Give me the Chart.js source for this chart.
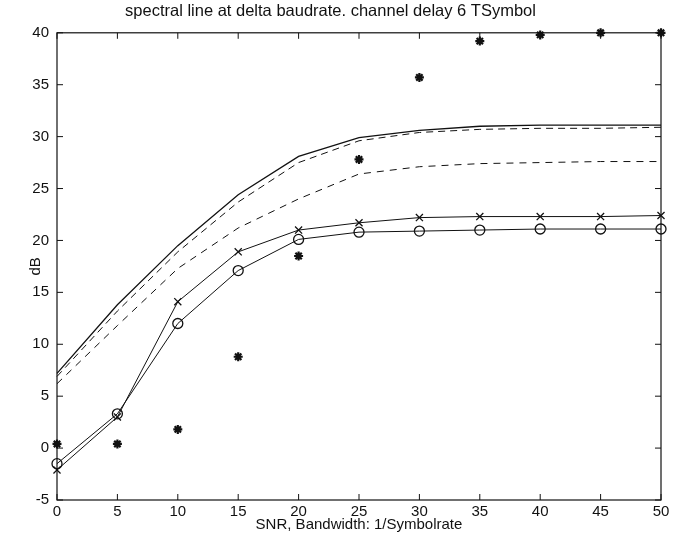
<!DOCTYPE html>
<html>
<head>
<meta charset="utf-8">
<script src="https://cdn.jsdelivr.net/npm/chart.js@4.4.0/dist/chart.umd.min.js"></script>
<style>
  html, body { margin: 0; padding: 0; background: #fff; }
  #wrap { width: 678px; height: 535px; }
</style>
</head>
<body>
<div id="wrap"><canvas id="specChart"></canvas></div>
<script>
// values
const snr = [0, 5, 10, 15, 20, 25, 30, 35, 40, 45, 50];
const solidTop   = [7.2, 13.8, 19.5, 24.4, 28.1, 29.9, 30.6, 31.0, 31.1, 31.1, 31.1];
const dashUpper  = [6.9, 13.2, 18.9, 23.7, 27.5, 29.6, 30.4, 30.7, 30.8, 30.8, 30.9];
const dashLower  = [6.2, 11.8, 17.3, 21.2, 24.0, 26.4, 27.1, 27.4, 27.5, 27.6, 27.6];
const crossLine  = [-2.1, 3.0, 14.1, 18.9, 21.0, 21.7, 22.2, 22.3, 22.3, 22.3, 22.4];
const circleLine = [-1.5, 3.3, 12.0, 17.1, 20.1, 20.8, 20.9, 21.0, 21.1, 21.1, 21.1];
const starPoints = [0.4, 0.4, 1.8, 8.8, 18.5, 27.8, 35.7, 39.2, 39.8, 40.0, 40.0];
const xTicks = [0, 5, 10, 15, 20, 25, 30, 35, 40, 45, 50];
const yTicks = [-5, 0, 5, 10, 15, 20, 25, 30, 35, 40];

const ink = '#111';
const pts = arr => arr.map((v, i) => ({ x: snr[i], y: v }));

// MATLAB style box with inward ticks on all four sides
const boxTicks = {
    id: 'boxTicks',
    afterDraw(chart) {
        const { ctx, chartArea: a, scales: { x, y } } = chart;
        const len = 6;
        ctx.save();
        ctx.strokeStyle = ink;
        ctx.lineWidth = 1.2;
        ctx.strokeRect(a.left, a.top, a.right - a.left, a.bottom - a.top);
        ctx.lineWidth = 1;
        ctx.beginPath();
        xTicks.forEach(v => {
            const px = x.getPixelForValue(v);
            ctx.moveTo(px, a.bottom); ctx.lineTo(px, a.bottom - len);
            ctx.moveTo(px, a.top); ctx.lineTo(px, a.top + len);
        });
        yTicks.forEach(v => {
            const py = y.getPixelForValue(v);
            ctx.moveTo(a.left, py); ctx.lineTo(a.left + len, py);
            ctx.moveTo(a.right, py); ctx.lineTo(a.right - len, py);
        });
        ctx.stroke();
        ctx.restore();
    }
};

const lineSet = (data, extra) => Object.assign({
    data: pts(data),
    borderColor: ink,
    backgroundColor: ink,
    borderWidth: 1,
    pointRadius: 0,
    tension: 0,
    fill: false,
    clip: false
}, extra);

new Chart(document.getElementById('specChart'), {
    type: 'line',
    data: {
        datasets: [
            lineSet(solidTop, { borderWidth: 1.3 }),
            lineSet(dashUpper, { borderDash: [7, 5] }),
            lineSet(dashLower, { borderDash: [7, 6] }),
            lineSet(crossLine, { pointStyle: 'crossRot', pointRadius: 5, pointBorderWidth: 1.3 }),
            lineSet(circleLine, { pointStyle: 'circle', pointRadius: 5, pointBackgroundColor: 'rgba(0,0,0,0)', pointBorderWidth: 1.3 }),
            lineSet(starPoints, { showLine: false, pointStyle: 'star', pointRadius: 4.5, pointBorderWidth: 2.2 })
        ]
    },
    options: {
        responsive: true,
        maintainAspectRatio: false,
        animation: false,
        layout: { padding: { right: 17 } },
        scales: {
            x: {
                type: 'linear',
                min: 0, max: 50,
                afterFit: s => { s.height = 35; },
                afterBuildTicks: s => { s.ticks = xTicks.map(v => ({ value: v })); },
                grid: { display: false, drawTicks: false },
                border: { display: false },
                ticks: { color: ink, font: { family: 'Liberation Sans', size: 15 }, padding: 3, maxRotation: 0 },
                title: {
                    display: true, text: 'SNR, Bandwidth: 1/Symbolrate', color: ink,
                    font: { family: 'Liberation Sans', size: 15 }, padding: { top: 0, bottom: 1 }
                }
            },
            y: {
                type: 'linear',
                min: -5, max: 40,
                afterFit: s => { s.width = 57; },
                afterBuildTicks: s => { s.ticks = yTicks.map(v => ({ value: v })); },
                grid: { display: false, drawTicks: false },
                border: { display: false },
                ticks: { color: ink, font: { family: 'Liberation Sans', size: 15 }, padding: 8 },
                title: {
                    display: true, text: 'dB', color: ink,
                    font: { family: 'Liberation Sans', size: 15 }, padding: { top: 27, bottom: 0 }
                }
            }
        },
        plugins: {
            legend: { display: false },
            tooltip: { enabled: false },
            title: {
                display: true,
                text: 'spectral line at delta baudrate. channel delay 6 TSymbol',
                color: ink,
                font: { family: 'Liberation Sans', size: 16.5, weight: 'normal' },
                padding: { top: 2, bottom: 11 }
            }
        }
    },
    plugins: [boxTicks]
});
</script>
</body>
</html>
